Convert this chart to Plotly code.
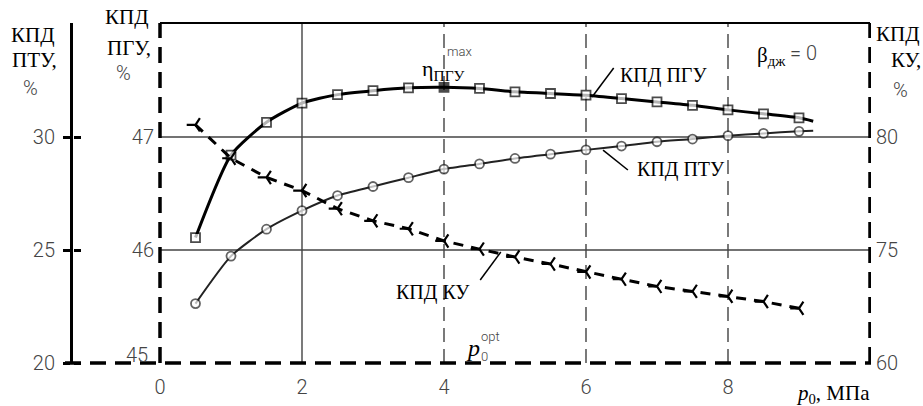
import plotly.graph_objects as go

# ---------------- data ----------------
p0 = [0.5, 1.0, 1.5, 2.0, 2.5, 3.0, 3.5, 4.0, 4.5, 5.0, 5.5, 6.0, 6.5, 7.0, 7.5, 8.0, 8.5, 9.0]
p0_line_end = 9.2
p0_opt = 4.0

eff_pgu = [46.11, 46.84, 47.13, 47.30, 47.375, 47.41, 47.435, 47.44, 47.43, 47.40,
           47.385, 47.37, 47.34, 47.31, 47.28, 47.24, 47.205, 47.17]
eff_pgu_end = 47.14

eff_ptu = [22.63, 24.73, 25.92, 26.74, 27.41, 27.81, 28.20, 28.58, 28.81, 29.05,
           29.24, 29.43, 29.60, 29.79, 29.91, 30.06, 30.16, 30.25]
eff_ptu_end = 30.28

eff_ku = [80.54, 79.06, 78.21, 77.63, 76.83, 76.29, 75.94, 75.40, 75.04, 74.69,
          74.38, 74.03, 73.71, 73.39, 73.17, 72.95, 72.72, 72.42]

x_ticks = [0, 2, 4, 6, 8]
ptu_ticks = [20, 25, 30]
pgu_ticks = [46, 47]
ku_ticks = [70, 75, 80]
ku_ticktext = ["60", "75", "80"]

# ---------------- layout geometry ----------------
OFF = 0  # page body margin is removed by post_script
W, H = 923 - OFF, 406 - OFF
ML, MR, MT, MB = 73 - OFF, 52, 23 - OFF, 43
PW, PH = W - ML - MR, H - MT - MB
PX_PER_X = 71.0
X_MIN = -87 / PX_PER_X
X_MAX = X_MIN + PW / PX_PER_X
PTU_PX = 22.6
PGU_PX = 113.0

def fx(px):
    return (px - OFF - ML) / PW

def fy(py):
    return (H - MB - (py - OFF)) / PH

NUM_FONT = dict(family="Roboto", size=20, color="#444", weight=300)
SERIF = "Liberation Serif"

fig = go.Figure()

# PGU curve (squares)
pgu_x = p0 + [p0_line_end]
pgu_y = eff_pgu + [eff_pgu_end]
pgu_fill = ["black" if x == p0_opt else "white" for x in p0] + ["white"]
pgu_size = [9] * len(p0) + [0]
fig.add_trace(go.Scatter(
    x=pgu_x, y=pgu_y, yaxis="y2", mode="lines+markers",
    line=dict(color="black", width=3, shape="spline", smoothing=0.6),
    marker=dict(symbol="square", size=pgu_size, color=pgu_fill,
                line=dict(color="black", width=1.8)),
    hoverinfo="skip"))

# PTU curve (circles)
fig.add_trace(go.Scatter(
    x=p0 + [p0_line_end], y=eff_ptu + [eff_ptu_end], yaxis="y", mode="lines+markers",
    line=dict(color="#222", width=2, shape="spline", smoothing=0.6),
    marker=dict(symbol="circle", size=[9] * len(p0) + [0], color="white",
                line=dict(color="#222", width=1.8)),
    hoverinfo="skip"))

# KU curve (dashed)
fig.add_trace(go.Scatter(
    x=p0, y=eff_ku, yaxis="y3", mode="lines+markers",
    line=dict(color="black", width=3, dash="10px,8px"),
    marker=dict(symbol="y-left", size=11, color="black",
                line=dict(color="black", width=2.2)),
    hoverinfo="skip"))

shapes = []
# frame top
shapes.append(dict(type="line", xref="x", yref="paper", x0=0, x1=10, y0=1, y1=1,
                   line=dict(color="black", width=2)))
# vertical grid lines
for xv in x_ticks[1:]:
    shapes.append(dict(type="line", xref="x", yref="paper", x0=xv, x1=xv, y0=0, y1=1,
                       line=dict(color="#222", width=1.2,
                                 dash="solid" if xv == 2 else "14px,7px"),
                       layer="below"))
# horizontal grid lines
for yv in [25, 30]:
    shapes.append(dict(type="line", xref="x", yref="y", x0=0, x1=10, y0=yv, y1=yv,
                       line=dict(color="#444", width=1.5), layer="below"))
# dashed thick axes
for xv in [0, 10]:
    shapes.append(dict(type="line", xref="x", yref="paper", x0=xv, x1=xv, y0=0, y1=1,
                       line=dict(color="black", width=3.5, dash="16px,9px")))
shapes.append(dict(type="line", xref="paper", yref="paper", x0=fx(65), x1=fx(871), y0=0, y1=0,
                   line=dict(color="black", width=3.5, dash="16px,9px")))
# leader lines
for (x0, y0, x1, y1) in [(6.085, 31.77, 6.39, 33.05),
                         (6.24, 29.42, 6.59, 28.54),
                         (4.51, 23.67, 4.80, 24.91)]:
    shapes.append(dict(type="line", xref="x", yref="y", x0=x0, y0=y0, x1=x1, y1=y1,
                       line=dict(color="black", width=1.5)))

ann = []

def txt(text, px, py, size=21, family=SERIF, color="black", xanchor="center",
        yanchor="middle", weight=None):
    f = dict(family=family, size=size, color=color)
    if weight:
        f["weight"] = weight
    ann.append(dict(text=text, x=fx(px), y=fy(py), xref="paper", yref="paper",
                    xanchor=xanchor, yanchor=yanchor, showarrow=False, font=f,
                    borderpad=0))

def num(text, px, py, size=20, xanchor="center"):
    txt(text, px, py, size=size, family="Roboto", color="#444", xanchor=xanchor, weight=300)

# axis captions
txt("КПД", 33, 35); txt("ПТУ,", 34, 60); num("%", 30, 88)
txt("КПД", 127, 17); txt("ПГУ,", 129, 48); num("%", 123, 73)
txt("КПД", 921, 34, size=21, xanchor="right")
txt("КУ,", 922, 60, size=21, xanchor="right")
num("%", 900, 90)
num("45", 137, 355)
# curve labels
txt("КПД ПГУ", 663, 75, size=20)
txt("КПД ПТУ", 681, 169, size=20)
txt("КПД КУ", 433, 292, size=20)
# beta
txt("β<sub>дж</sub>", 787, 56, xanchor="right")
num("= 0", 803, 53)
# eta max
txt("η<sub>ПГУ</sub>", 421, 70, size=22, xanchor="left")
num("max", 459, 51, size=13)
# p0 opt
txt("<i>p</i>", 473, 348, size=24)
num("0", 484, 356, size=13)
num("opt", 490, 336, size=13)
# x axis title
txt("<i>p</i><sub>0</sub>, МПа", 833, 394, size=21)

fig.update_layout(
    width=W, height=H, margin=dict(l=ML, r=MR, t=MT, b=MB, autoexpand=False),
    plot_bgcolor="white", paper_bgcolor="white", showlegend=False,
    xaxis=dict(range=[X_MIN, X_MAX], tickvals=x_ticks, showgrid=False, zeroline=False,
               showline=False, ticks="", tickfont=NUM_FONT, ticklabelstandoff=10,
               automargin=False),
    yaxis=dict(range=[20, 20 + PH / PTU_PX], tickvals=ptu_ticks, showgrid=False,
               zeroline=False, showline=True, linecolor="black", linewidth=3,
               ticks="outside", ticklen=7, tickwidth=2.5, tickcolor="black",
               tickfont=NUM_FONT, ticklabelstandoff=4, automargin=False),
    yaxis2=dict(range=[45, 45 + PH / PGU_PX], tickvals=pgu_ticks, overlaying="y",
                anchor="free", position=fx(160), side="left", showgrid=False,
                zeroline=False, showline=False, ticks="", tickfont=NUM_FONT,
                ticklabelstandoff=6, automargin=False),
    yaxis3=dict(range=[70, 70 + PH / PTU_PX], tickvals=ku_ticks, ticktext=ku_ticktext,
                overlaying="y", side="right", anchor="x", showgrid=False, zeroline=False,
                showline=False, ticks="", tickfont=NUM_FONT, ticklabelstandoff=4,
                automargin=False),
    yaxis4=dict(range=[20, 20 + PH / PTU_PX], tickvals=ptu_ticks, overlaying="y",
                anchor="free", position=0, side="right", showgrid=False, zeroline=False,
                showline=False, ticks="outside", ticklen=7, tickwidth=2.5,
                tickcolor="black", showticklabels=False, automargin=False),
    shapes=shapes, annotations=ann,
)
fig.add_trace(go.Scatter(x=[None], y=[None], yaxis="y4", showlegend=False))

post = ("document.body.style.margin='0';"
        "document.body.style.overflow='hidden';"
        "document.documentElement.style.overflow='hidden';")
fig.write_html("out.html", post_script=post, config={"displayModeBar": False})
